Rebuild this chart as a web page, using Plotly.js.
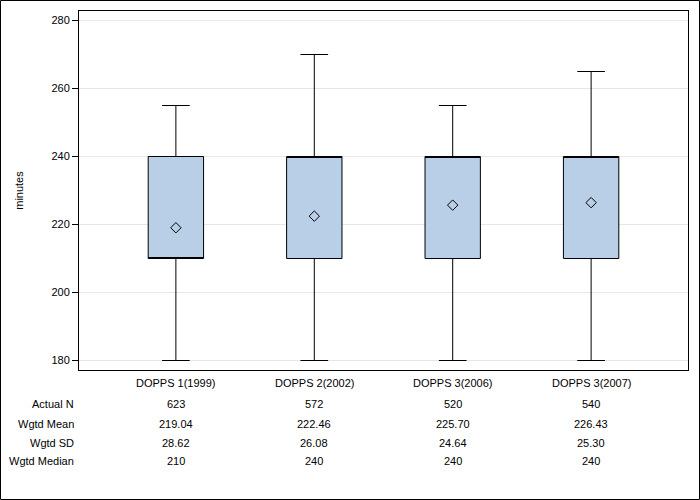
<!DOCTYPE html>
<html><head><meta charset="utf-8">
<script src="https://cdn.plot.ly/plotly-3.0.1.min.js"></script>
<style>html,body{margin:0;padding:0;background:#fff}#chart{width:700px;height:500px}</style>
</head><body><div id="chart"></div>
<script>
var categories = ["DOPPS 1(1999)", "DOPPS 2(2002)", "DOPPS 3(2006)", "DOPPS 3(2007)"];
var lowerWhisker = [180, 180, 180, 180];
var q1 = [210, 210, 210, 210];
var median = [210, 240, 240, 240];
var q3 = [240, 240, 240, 240];
var upperWhisker = [255, 270, 255, 265];
var actualN = ["623", "572", "520", "540"];
var wgtdMean = ["219.04", "222.46", "225.70", "226.43"];
var wgtdSD = ["28.62", "26.08", "24.64", "25.30"];
var wgtdMedian = ["210", "240", "240", "240"];
var rowLabels = ["Actual N", "Wgtd Mean", "Wgtd SD", "Wgtd Median"];
var rows = [actualN, wgtdMean, wgtdSD, wgtdMedian];

var L = 79, R = 688, T = 11, B = 370, W = 700, H = 500;
var pw = R - L, ph = B - T;
function py(pix) { return (B - pix) / ph; }
function px(pix) { return (pix - L) / pw; }

var font = "Liberation Sans, Arial, sans-serif";

var traces = [
  {
    type: "box", x: categories, q1: q1, median: median, q3: q3,
    lowerfence: lowerWhisker, upperfence: upperWhisker,
    width: 0.4, whiskerwidth: 0.5,
    fillcolor: "rgb(185,207,231)", line: {color: "#000", width: 1},
    boxpoints: false, hoverinfo: "skip", showlegend: false
  },
  {
    type: "scatter", mode: "markers", x: categories, y: wgtdMean.map(Number),
    marker: {symbol: "diamond-open", size: 8, color: "#000", line: {width: 1, color: "#000"}},
    showlegend: false, hoverinfo: "skip"
  }
];

var annotations = [];
var rowY = [404, 424, 443, 461];
categories.forEach(function (c, i) {
  annotations.push({xref: "x", yref: "paper", x: c, y: py(383), text: c, showarrow: false,
    xanchor: "center", yanchor: "middle", font: {family: font, size: 11, color: "#000"}});
  rows.forEach(function (r, j) {
    annotations.push({xref: "x", yref: "paper", x: c, y: py(rowY[j]), text: r[i], showarrow: false,
      xanchor: "center", yanchor: "middle", font: {family: font, size: 11, color: "#000"}});
  });
});
rowLabels.forEach(function (t, j) {
  annotations.push({xref: "paper", yref: "paper", x: px(76), y: py(rowY[j]), text: t, showarrow: false,
    xanchor: "right", yanchor: "middle", font: {family: font, size: 11, color: "#000"}});
});

var layout = {
  width: W, height: H,
  margin: {l: L, r: W - R, t: T, b: H - B, pad: 0},
  paper_bgcolor: "#fff", plot_bgcolor: "#fff",
  font: {family: font, size: 11, color: "#000"},
  xaxis: {type: "category", range: [-0.7, 3.7], showticklabels: false, ticks: "",
    showgrid: false, zeroline: false, showline: true, mirror: true, linecolor: "#000", linewidth: 1},
  yaxis: {range: [177.206, 282.794], tickvals: [180, 200, 220, 240, 260, 280], ticks: "outside", ticklen: 6,
    tickcolor: "#000", showgrid: true, gridcolor: "#e6e6e6", gridwidth: 1, zeroline: false,
    showline: true, mirror: true, linecolor: "#000", linewidth: 1,
    tickfont: {family: font, size: 11, color: "#000"},
    title: {text: "minutes", standoff: 25, font: {family: font, size: 11, color: "#000"}}},
  annotations: annotations,
  shapes: [{type: "rect", xref: "paper", yref: "paper",
    x0: px(0.5), x1: px(699.5), y0: py(499.5), y1: py(0.5),
    line: {color: "#000", width: 1}, fillcolor: "rgba(0,0,0,0)"}]
};

Plotly.newPlot("chart", traces, layout, {displayModeBar: false, staticPlot: true});
</script></body></html>
